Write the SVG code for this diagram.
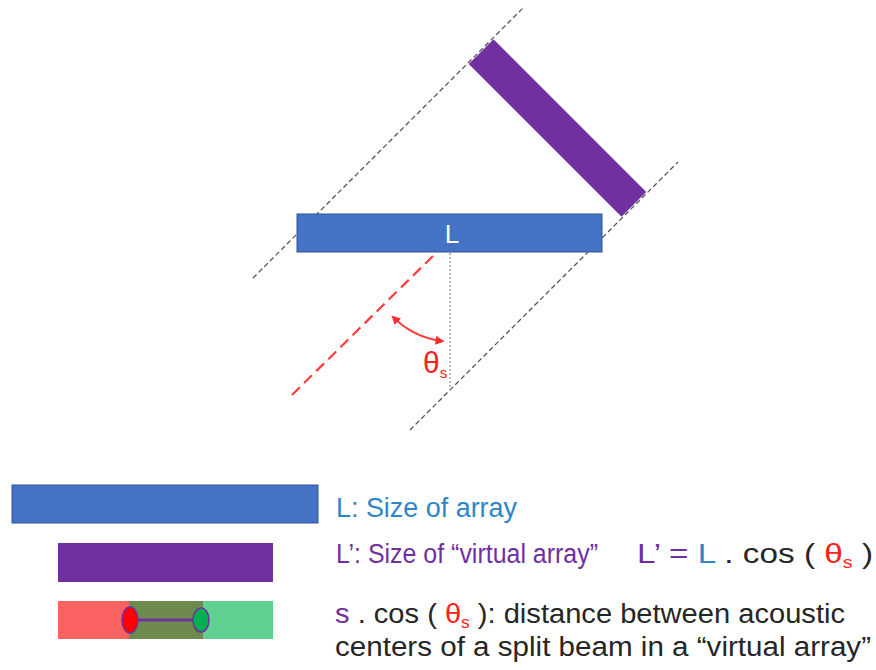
<svg xmlns="http://www.w3.org/2000/svg" width="876" height="670" viewBox="0 0 876 670">
<style>
  .guide { stroke: #555; stroke-width: 1.3; stroke-dasharray: 5 3; fill: none; }
  .txt { font-family: "Liberation Sans", Arial, sans-serif; font-size: 27px; fill: #262626; }
  .blue { fill: #2E86C8; }
  .purple { fill: #7030A0; }
  .red { fill: #FF2020; }
</style>
<defs>
  <marker id="arr" viewBox="0 0 10 10" refX="6" refY="5" markerWidth="5" markerHeight="5" orient="auto-start-reverse" markerUnits="strokeWidth">
    <path d="M0,0 L10,5 L0,10 Z" fill="#FF2E2E"/>
  </marker>
</defs>
<rect width="876" height="670" fill="#FFFFFF"/>

<g id="connectors">
  <line class="guide" x1="253" y1="278" x2="523" y2="8"/>
  <line class="guide" x1="410" y1="430" x2="678" y2="162"/>
  <line x1="450" y1="253" x2="450" y2="388" stroke="#8A8A8A" stroke-width="1.2" stroke-dasharray="2 2"/>
  <line x1="292" y1="395" x2="437" y2="252" stroke="#FF3B3B" stroke-width="2.2" stroke-dasharray="11 6"/>
  <path d="M394,318 A85,85 0 0 0 441,341" fill="none" stroke="#FF3B3B" stroke-width="1.8" marker-start="url(#arr)" marker-end="url(#arr)"/>
</g>

<g id="array">
  <rect x="297" y="214" width="305" height="38" fill="#4472C4" stroke="#2F5597" stroke-width="1"/>
  <text x="452" y="243" text-anchor="middle" font-family="Liberation Sans, Arial, sans-serif" font-size="26" fill="#FFFFFF">L</text>
</g>

<g id="virtual-array">
  <rect x="-108" y="-17.5" width="216" height="35" fill="#7030A0" transform="translate(557.5,128) rotate(45)"/>
</g>

<g id="theta-label">
  <text x="423" y="373" font-family="Liberation Sans, Arial, sans-serif" font-size="30" fill="#FF2020">θ<tspan font-size="15" dy="5">s</tspan></text>
</g>

<g id="legend-array">
  <rect x="12" y="485" width="306" height="38" fill="#4472C4" stroke="#2F5597" stroke-width="1"/>
  <text class="txt blue" x="336" y="517" textLength="181" lengthAdjust="spacingAndGlyphs">L: Size of array</text>
</g>

<g id="legend-virtual">
  <rect x="58" y="543" width="215" height="39" fill="#7030A0"/>
  <text class="txt purple" x="336" y="563" textLength="262" lengthAdjust="spacingAndGlyphs">L’: Size of “virtual array”</text>
  <text class="txt" x="637" y="563" textLength="236" lengthAdjust="spacingAndGlyphs"><tspan class="purple">L’ = </tspan><tspan class="blue">L</tspan> . cos ( <tspan class="red">θ</tspan><tspan class="red" font-size="16" dy="5">s</tspan><tspan dy="-5"> )</tspan></text>
</g>

<g id="legend-split">
  <rect x="58" y="601" width="72" height="38" fill="#FA6262"/>
  <rect x="129" y="601" width="74" height="38" fill="#6E8A4C"/>
  <rect x="203" y="601" width="70" height="38" fill="#5ED190"/>
  <line x1="130" y1="620" x2="201" y2="620" stroke="#7030A0" stroke-width="3"/>
  <ellipse cx="130" cy="620" rx="8" ry="13" fill="#FF0000" stroke="#7030A0" stroke-width="1.5"/>
  <ellipse cx="201" cy="620" rx="8" ry="12" fill="#00B050" stroke="#7030A0" stroke-width="1.5"/>
  <text class="txt" x="335" y="623" textLength="510" lengthAdjust="spacingAndGlyphs"><tspan class="purple">s</tspan> . cos ( <tspan class="red">θ</tspan><tspan class="red" font-size="16" dy="5">s</tspan><tspan dy="-5"> ): distance between acoustic</tspan></text>
  <text class="txt" x="335" y="656" textLength="536" lengthAdjust="spacingAndGlyphs">centers of a split beam in a “virtual array”</text>
</g>
</svg>
